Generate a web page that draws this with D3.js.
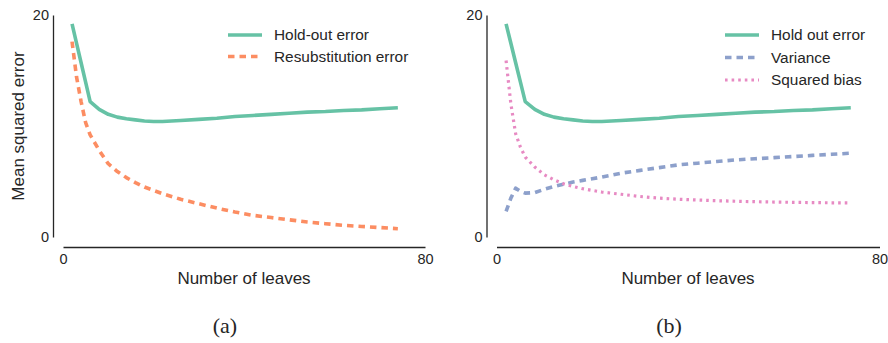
<!DOCTYPE html>
<html>
<head>
<meta charset="utf-8">
<script src="https://cdn.jsdelivr.net/npm/d3@7"></script>
<style>
  body { margin: 0; background: #fff; }
  svg { display: block; }
  text { font-family: "Liberation Sans", Arial, sans-serif; fill: #262626; }
</style>
</head>
<body>
<div id="chart"></div>
<script>
// number of leaves (shared x values)
const leaves = [2, 3, 4, 5, 6, 8, 10, 12, 14, 16, 18, 20, 22, 26, 30, 34, 38, 42, 46, 50, 54, 58, 62, 66, 70, 74];

// series
const holdOut = [19.2, 17.45, 15.7, 13.95, 12.2, 11.5, 11.05, 10.8, 10.65, 10.55, 10.45, 10.4, 10.4, 10.5, 10.6, 10.7, 10.85, 10.95, 11.05, 11.15, 11.25, 11.3, 11.4, 11.45, 11.55, 11.65];
const resub = [17.6, 14.4, 12.2, 10.3, 9.2, 7.8, 6.6, 5.9, 5.35, 4.9, 4.5, 4.2, 3.9, 3.4, 3.0, 2.6, 2.25, 1.95, 1.75, 1.55, 1.35, 1.2, 1.05, 0.95, 0.85, 0.75];
const variance = [2.3, 3.5, 4.4, 4.1, 3.95, 4.0, 4.3, 4.55, 4.75, 4.95, 5.1, 5.25, 5.4, 5.75, 6.0, 6.25, 6.5, 6.65, 6.8, 6.95, 7.05, 7.15, 7.25, 7.35, 7.45, 7.55];
const sqBias = [15.9, 12.0, 9.3, 8.1, 7.2, 6.3, 5.6, 5.15, 4.8, 4.55, 4.35, 4.2, 4.05, 3.85, 3.65, 3.5, 3.4, 3.33, 3.27, 3.22, 3.18, 3.15, 3.12, 3.1, 3.08, 3.07];

const xTicks = [0, 80];
const yTicks = [0, 20];
const xLabel = "Number of leaves";
const yLabel = "Mean squared error";

const W = 888, H = 343;

const svg = d3.select("#chart").append("svg")
    .attr("width", W)
    .attr("height", H);

// line styles
const styles = {
    green: { color: "#66c2a5", width: 3.6, dash: null },
    orange: { color: "#fc8d62", width: 3.6, dash: "6.5,5" },
    blue: { color: "#8da0cb", width: 3.6, dash: "6.5,5" },
    pink: { color: "#e78ac3", width: 3.2, dash: "2.6,4" }
};

const panels = [
    {
        x0: 63, x1: 425, yAxisX: 53, showYLabel: true, caption: "(a)",
        legendX: 228,
        series: [
            { name: "Hold-out error", values: holdOut, style: styles.green },
            { name: "Resubstitution error", values: resub, style: styles.orange }
        ]
    },
    {
        x0: 496.5, x1: 879.5, yAxisX: 486.5, showYLabel: false, caption: "(b)",
        legendX: 725,
        series: [
            { name: "Hold out error", values: holdOut, style: styles.green },
            { name: "Variance", values: variance, style: styles.blue },
            { name: "Squared bias", values: sqBias, style: styles.pink }
        ]
    }
];

panels.forEach(drawPanel);

function drawPanel(p) {
    const g = svg.append("g");

    const x = d3.scaleLinear().domain([0, 80]).range([p.x0, p.x1]);
    const y = d3.scaleLinear().domain([0, 20]).range([237, 15]);

    // y axis (trimmed spine, no tick marks)
    const yAxis = g.append("g")
        .attr("transform", `translate(${p.yAxisX},0)`)
        .call(d3.axisLeft(y).tickValues(yTicks).tickSize(0).tickPadding(4).tickFormat(d3.format("d")));
    yAxis.select(".domain").attr("stroke", "#262626").attr("stroke-width", 1.3);
    yAxis.selectAll("text").style("font-size", "14.5px").attr("fill", "#262626")
        .style("font-family", "'Liberation Sans', Arial, sans-serif");

    // x axis
    const xAxis = g.append("g")
        .attr("transform", "translate(0,247)")
        .call(d3.axisBottom(x).tickValues(xTicks).tickSize(0).tickPadding(7).tickFormat(d3.format("d")));
    xAxis.select(".domain").attr("stroke", "#262626").attr("stroke-width", 1.5);
    xAxis.selectAll("text").style("font-size", "14.5px").attr("fill", "#262626")
        .style("font-family", "'Liberation Sans', Arial, sans-serif");

    g.append("text")
        .attr("x", (p.x0 + p.x1) / 2)
        .attr("y", 284)
        .attr("text-anchor", "middle")
        .style("font-size", "17px")
        .text(xLabel);

    if (p.showYLabel) {
        g.append("text")
            .attr("transform", `translate(24,126) rotate(-90)`)
            .attr("text-anchor", "middle")
            .style("font-size", "17px")
            .text(yLabel);
    }

    const line = d3.line()
        .x((d, i) => x(leaves[i]))
        .y(d => y(d));

    p.series.forEach(s => {
        g.append("path")
            .datum(s.values)
            .attr("d", line)
            .attr("fill", "none")
            .attr("stroke", s.style.color)
            .attr("stroke-width", s.style.width)
            .attr("stroke-dasharray", s.style.dash)
            .attr("stroke-linejoin", "round");
    });

    // legend
    const legend = g.append("g").attr("transform", `translate(${p.legendX},35)`);
    const rowH = p.series.length > 2 ? 22.5 : 21.5;
    p.series.forEach((s, i) => {
        legend.append("line")
            .attr("x1", 0).attr("x2", 34)
            .attr("y1", i * rowH).attr("y2", i * rowH)
            .attr("stroke", s.style.color)
            .attr("stroke-width", s.style.width)
            .attr("stroke-dasharray", s.style.dash);
        legend.append("text")
            .attr("x", 46)
            .attr("y", i * rowH)
            .attr("dy", "0.35em")
            .style("font-size", "15.4px")
            .text(s.name);
    });

    g.append("text")
        .attr("x", (p.x0 + p.x1) / 2 - 19)
        .attr("y", 333)
        .attr("text-anchor", "middle")
        .style("font-family", "'Liberation Serif', 'Times New Roman', serif")
        .style("font-size", "22px")
        .attr("fill", "#000")
        .text(p.caption);
}
</script>
</body>
</html>
